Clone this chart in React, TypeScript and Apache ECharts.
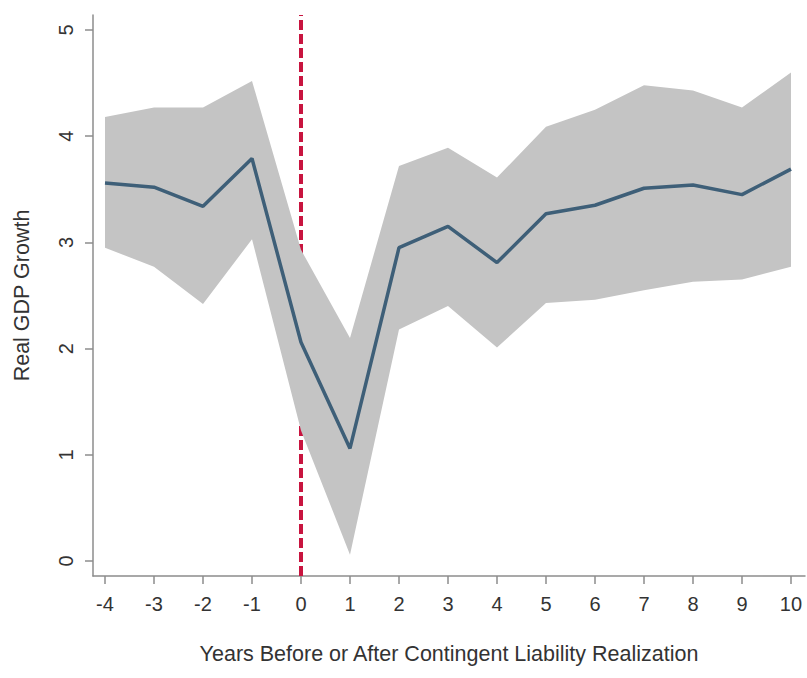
import React, { useEffect, useRef } from "react";
import * as echarts from "echarts";

const years = [-4, -3, -2, -1, 0, 1, 2, 3, 4, 5, 6, 7, 8, 9, 10];
const meanGrowth = [3.56, 3.52, 3.34, 3.79, 2.06, 1.06, 2.95, 3.15, 2.81, 3.27, 3.35, 3.51, 3.54, 3.45, 3.69];
const upperBand = [4.18, 4.27, 4.27, 4.52, 2.93, 2.1, 3.72, 3.89, 3.61, 4.09, 4.25, 4.48, 4.43, 4.27, 4.6];
const lowerBand = [2.95, 2.77, 2.42, 3.03, 1.23, 0.06, 2.18, 2.4, 2.01, 2.43, 2.46, 2.55, 2.63, 2.65, 2.77];
const yTicks = [0, 1, 2, 3, 4, 5];
const eventYear = 0;

const FONT = "'Liberation Sans', Arial, sans-serif";
const TEXT = "#333333";
const AXIS = "#8c8c8c";

export default function App() {
  const ref = useRef<HTMLDivElement>(null);
  useEffect(() => {
    if (!ref.current) return;
    const chart = echarts.init(ref.current, null, { renderer: "svg" });
    const bandData = years.map((y, i) => [y, lowerBand[i], upperBand[i]]);
    chart.setOption({
      animation: false,
      backgroundColor: "#ffffff",
      grid: { left: 93, right: 2, top: 15, bottom: 102, containLabel: false },
      xAxis: {
        type: "value",
        min: -4.245,
        max: 10.286,
        name: "Years Before or After Contingent Liability Realization",
        nameLocation: "middle",
        nameGap: 67,
        nameTextStyle: { fontFamily: FONT, fontSize: 21.5, color: TEXT },
        axisLine: { show: true, onZero: false, lineStyle: { color: AXIS, width: 1.5 } },
        axisTick: { show: true, length: 8, customValues: years, lineStyle: { color: AXIS, width: 1.5 } },
        axisLabel: { customValues: years, margin: 18, fontFamily: FONT, fontSize: 20, color: TEXT },
        splitLine: { show: false },
      },
      yAxis: {
        type: "value",
        min: -0.141,
        max: 5.141,
        name: "Real GDP Growth",
        nameLocation: "middle",
        nameGap: 60,
        nameTextStyle: { fontFamily: FONT, fontSize: 21.5, color: TEXT },
        axisLine: { show: true, onZero: false, lineStyle: { color: AXIS, width: 1.5 } },
        axisTick: { show: true, length: 8, customValues: yTicks, lineStyle: { color: AXIS, width: 1.5 } },
        axisLabel: { customValues: yTicks, rotate: 90, margin: 17, fontFamily: FONT, fontSize: 20, color: TEXT },
        splitLine: { show: false },
      },
      series: [
        {
          type: "line",
          z: 1,
          data: [],
          markLine: {
            z: 1,
            silent: true,
            symbol: "none",
            label: { show: false },
            lineStyle: { color: "#c8143f", width: 4, type: [10, 4] },
            data: [{ xAxis: eventYear }],
          },
        },
        {
          type: "custom",
          z: 3,
          silent: true,
          encode: { x: 0, y: [1, 2] },
          data: bandData,
          renderItem: (params: any, api: any) => {
            if (params.dataIndex !== 0) return null;
            const upperPts = bandData.map((d) => api.coord([d[0], d[2]]));
            const lowerPts = bandData.map((d) => api.coord([d[0], d[1]])).reverse();
            return {
              type: "polygon",
              shape: { points: upperPts.concat(lowerPts) },
              style: { fill: "#c4c4c4" },
            };
          },
        },
        {
          type: "line",
          z: 4,
          symbol: "none",
          lineStyle: { color: "#3e5f78", width: 3.5 },
          data: years.map((y, i) => [y, meanGrowth[i]]),
        },
      ],
    });
    return () => chart.dispose();
  }, []);
  return (
    <div
      ref={ref}
      style={{ position: "fixed", left: 0, top: 0, width: 807, height: 678, background: "#fff" }}
    />
  );
}
